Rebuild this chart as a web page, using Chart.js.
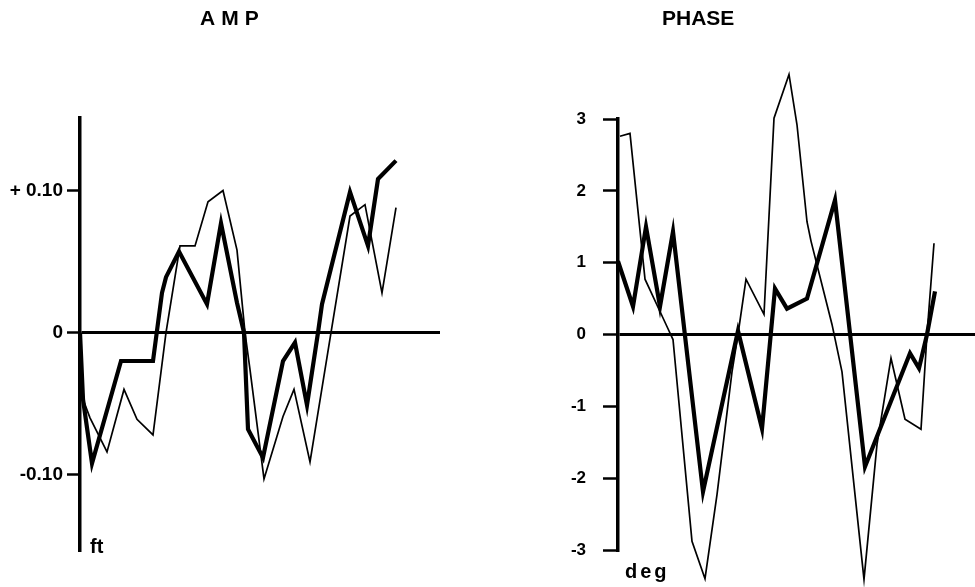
<!DOCTYPE html>
<html>
<head>
<meta charset="utf-8">
<script src="https://cdn.jsdelivr.net/npm/chart.js@4.4.0/dist/chart.umd.min.js"></script>
<style>
    body { margin: 0; background: #fff; }
    #wrap { position: relative; width: 975px; height: 587px; overflow: hidden; background: #fff; }
    canvas { position: absolute; top: 0; }
    .lbl { position: absolute; font-family: 'Liberation Sans', Arial, sans-serif; font-weight: bold; color: #000; white-space: nowrap; line-height: 1; }
</style>
</head>
<body>
<div id="wrap">
    <canvas id="ampChart" width="460" height="587" style="left:0px"></canvas>
    <canvas id="phaseChart" width="475" height="587" style="left:500px"></canvas>
    <div class="lbl" style="left:200px; top:7px; font-size:21px; letter-spacing:6px;">AMP</div>
    <div class="lbl" style="left:662px; top:7px; font-size:21px;">PHASE</div>
    <div class="lbl" style="left:90px; top:536px; font-size:20px;">ft</div>
    <div class="lbl" style="left:625px; top:561px; font-size:20px; letter-spacing:3px;">deg</div>
</div>
<script>
// x positions are in the same relative time units for both panels
const ampHeavyX = [0, 0.3, 1.2, 4.1, 7.3, 8.2, 8.6, 9.9, 12.7, 14.1, 15.7, 16.4, 16.8, 18.3, 20.3, 21.5, 22.7, 23.8, 24.2, 27.0, 28.8, 29.8, 31.6];
const ampHeavyY = [0, -0.047, -0.092, -0.020, -0.020, 0.028, 0.039, 0.057, 0.020, 0.077, 0.021, 0, -0.068, -0.088, -0.020, -0.007, -0.051, 0, 0.020, 0.099, 0.061, 0.108, 0.121];

const ampLightX = [0, 0.3, 1.0, 2.7, 4.4, 5.7, 7.3, 8.6, 10.0, 11.5, 12.8, 14.3, 15.7, 16.5, 17.0, 18.4, 20.3, 21.4, 23.0, 25.1, 27.0, 28.5, 30.2, 31.6];
const ampLightY = [0, -0.047, -0.060, -0.084, -0.040, -0.061, -0.072, 0, 0.061, 0.061, 0.092, 0.100, 0.058, 0, -0.026, -0.103, -0.059, -0.040, -0.091, 0, 0.082, 0.090, 0.028, 0.088];

const phaseHeavyX = [0, 1.5, 2.8, 4.2, 5.5, 8.5, 12.0, 14.4, 15.7, 16.9, 18.9, 21.7, 24.7, 29.2, 30.1, 30.9, 31.7];
const phaseHeavyY = [1.02, 0.39, 1.50, 0.39, 1.43, -2.19, 0.05, -1.31, 0.64, 0.36, 0.50, 1.87, -1.84, -0.26, -0.47, 0, 0.60];

const phaseLightX = [0.2, 1.2, 2.7, 4.2, 5.0, 5.5, 7.4, 8.7, 9.9, 11.4, 12.0, 12.8, 14.6, 15.6, 17.1, 17.9, 18.9, 19.3, 21.4, 22.4, 23.7, 24.6, 25.9, 27.3, 28.7, 30.3, 30.9, 31.6];
const phaseLightY = [2.76, 2.80, 0.77, 0.32, 0.08, -0.07, -2.88, -3.40, -2.23, -0.52, 0, 0.77, 0.28, 3.01, 3.62, 2.92, 1.57, 1.30, 0.14, -0.52, -2.23, -3.41, -1.53, -0.33, -1.18, -1.32, 0, 1.27];

const ampTicks = [-0.1, 0, 0.1];
const ampTickLabels = ['-0.10', '0', '+ 0.10'];
const phaseTicks = [-3, -2, -1, 0, 1, 2, 3];
const phaseTickLabels = ['-3', '-2', '-1', '0', '1', '2', '3'];

const pairUp = (xs, ys) => xs.map((x, i) => ({ x: x, y: ys[i] }));

function lineSet(points, width) {
    return {
        data: points,
        showLine: true,
        borderColor: '#000',
        borderWidth: width,
        pointRadius: 0,
        tension: 0,
        clip: false
    };
}

function buildPanel(canvasId, cfg) {
    const ctx = document.getElementById(canvasId).getContext('2d');
    new Chart(ctx, {
        type: 'scatter',
        data: {
            datasets: [
                lineSet(pairUp(cfg.lightX, cfg.lightY), 1.7),
                lineSet(pairUp(cfg.heavyX, cfg.heavyY), 4.2)
            ]
        },
        options: {
            responsive: false,
            animation: false,
            events: [],
            layout: { padding: { top: cfg.top, bottom: 587 - cfg.bottom, left: 0, right: cfg.right } },
            plugins: { legend: { display: false }, tooltip: { enabled: false } },
            scales: {
                x: { type: 'linear', display: false, min: 0, max: cfg.xMax },
                y: {
                    type: 'linear',
                    min: cfg.yMin,
                    max: cfg.yMax,
                    afterFit: (scale) => { scale.width = cfg.axisWidth; },
                    afterBuildTicks: (scale) => { scale.ticks = cfg.ticks.map(v => ({ value: v })); },
                    border: { display: true, color: '#000', width: 3.5 },
                    grid: {
                        drawOnChartArea: true,
                        drawTicks: true,
                        tickLength: cfg.tickLength,
                        tickWidth: 2.5,
                        tickColor: '#000',
                        lineWidth: 3,
                        color: (c) => (c.tick && c.tick.value === 0) ? '#000' : 'rgba(0,0,0,0)'
                    },
                    ticks: {
                        padding: cfg.labelPad,
                        color: '#000',
                        font: { family: "'Liberation Sans', Arial, sans-serif", weight: 'bold', size: cfg.fontSize },
                        callback: (value) => cfg.labels[cfg.ticks.indexOf(value)]
                    }
                }
            }
        }
    });
}

buildPanel('ampChart', {
    heavyX: ampHeavyX, heavyY: ampHeavyY, lightX: ampLightX, lightY: ampLightY,
    ticks: ampTicks, labels: ampTickLabels,
    yMin: -0.153, yMax: 0.151, xMax: 36,
    top: 118, bottom: 550, right: 20, axisWidth: 80,
    tickLength: 13, labelPad: 4, fontSize: 19
});

buildPanel('phaseChart', {
    heavyX: phaseHeavyX, heavyY: phaseHeavyY, lightX: phaseLightX, lightY: phaseLightY,
    ticks: phaseTicks, labels: phaseTickLabels,
    yMin: -3, yMax: 3, xMax: 35.7,
    top: 119, bottom: 550, right: 0, axisWidth: 118,
    tickLength: 15, labelPad: 17, fontSize: 17
});
</script>
</body>
</html>
